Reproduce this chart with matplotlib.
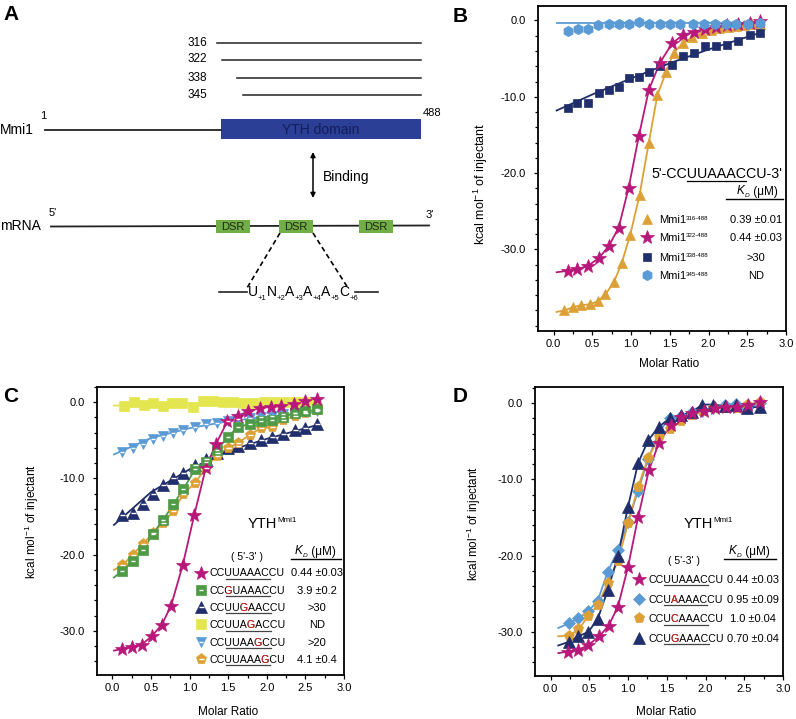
import matplotlib
matplotlib.use('Agg')
import matplotlib.pyplot as plt
import numpy as np
from matplotlib.lines import Line2D
from matplotlib.patches import Rectangle
from matplotlib.transforms import Bbox
from matplotlib.ticker import MultipleLocator, FixedLocator, FormatStrFormatter
from matplotlib.font_manager import FontProperties, findfont
from matplotlib.ft2font import FT2Font

plt.rcParams['font.family'] = ['Liberation Sans', 'DejaVu Sans']
plt.rcParams['axes.unicode_minus'] = False
plt.rcParams['mathtext.fontset'] = 'custom'
plt.rcParams['mathtext.rm'] = 'Liberation Sans'
plt.rcParams['mathtext.it'] = 'Liberation Sans:italic'

# colours
MAG = '#B8187A'
ORG = '#DDA036'
NAVY = '#212E6C'
LBLUE = '#5B9BD5'
GREEN = '#4E9A47'
YEL = '#E4E650'
RED = '#E0302A'

# ---------------- panel A (schematic) ----------------
construct_starts = [316, 322, 338, 345]
protein_len = 488
dsr_labels = ['DSR', 'DSR', 'DSR']
motif = [('U', '+1'), ('N', '+2'), ('A', '+3'), ('A', '+4'), ('A', '+5'), ('C', '+6')]

# ---------------- panel B ----------------
b316_x = [0.14, 0.25, 0.36, 0.47, 0.57, 0.67, 0.78, 0.88, 0.99, 1.11, 1.23, 1.34,
          1.45, 1.55, 1.67, 1.79, 1.91, 2.03, 2.14, 2.25, 2.36, 2.46, 2.56, 2.66]
b316_y = [-38.0, -37.6, -37.3, -37.2, -36.8, -35.9, -34.3, -31.8, -28.1, -22.9, -16.0, -9.8,
          -6.8, -4.2, -3.0, -2.2, -1.7, -1.3, -1.0, -0.9, -0.75, -0.6, -0.5, -0.4]
b322_x = [0.19, 0.30, 0.44, 0.59, 0.71, 0.84, 0.97, 1.10, 1.23, 1.37, 1.53, 1.67,
          1.81, 1.95, 2.10, 2.24, 2.38, 2.53, 2.67]
b322_y = [-32.8, -32.6, -32.2, -31.1, -29.6, -27.2, -21.9, -15.2, -9.1, -5.6, -3.0, -1.9,
          -1.5, -1.1, -0.8, -0.6, -0.4, -0.35, -0.1]
b338_x = b322_x
b338_y = [-11.5, -10.8, -10.8, -9.45, -9.1, -8.7, -7.6, -7.4, -6.7, -6.0, -5.8, -4.6,
          -4.2, -3.4, -3.4, -3.2, -2.75, -1.9, -1.6]
b338_fit_x = [0.04, 0.5, 1.0, 1.5, 2.0, 2.7]
b338_fit_y = [-11.8, -9.7, -7.6, -5.6, -3.8, -1.5]
b345_x = [0.19, 0.32, 0.45, 0.58, 0.71, 0.84, 0.97, 1.10, 1.23, 1.37, 1.50, 1.63,
          1.80, 1.94, 2.08, 2.22, 2.36, 2.51, 2.66]
b345_y = [-1.4, -1.15, -1.15, -0.57, -0.44, -0.44, -0.44, -0.26, -0.44, -0.44, -0.44, -0.44,
          -0.44, -0.44, -0.44, -0.44, -0.44, -0.44, -0.3]
b345_fit_x = [0.04, 2.7]
b345_fit_y = [-0.3, -0.3]
b_names = ['316-488', '322-488', '338-488', '345-488']
b_kd = ['0.39 \u00b10.01', '0.44 \u00b10.03', '>30', 'ND']

# ---------------- panel C ----------------
c_x = [0.13, 0.26, 0.40, 0.52, 0.66, 0.79, 0.92, 1.07, 1.21, 1.35, 1.50, 1.63,
       1.78, 1.92, 2.07, 2.21, 2.36, 2.50, 2.65]
c_wt_x = [0.12, 0.25, 0.38, 0.51, 0.64, 0.76, 0.91, 1.06, 1.21, 1.34, 1.49, 1.63,
          1.76, 1.91, 2.05, 2.19, 2.35, 2.50, 2.65]
c_wt_y = [-32.4, -32.1, -31.8, -30.7, -29.2, -26.7, -21.4, -14.8, -8.6, -5.5, -2.5, -1.75,
          -1.2, -0.75, -0.6, -0.45, -0.2, 0.1, 0.4]
c_g3_y = [-22.1, -20.8, -19.4, -17.3, -15.4, -13.4, -11.4, -8.8, -7.8, -6.3, -4.5, -3.2,
          -2.9, -2.4, -2.3, -1.9, -1.4, -1.2, -0.9]
c_g5_y = [-14.8, -14.6, -13.4, -12.0, -10.8, -9.9, -9.3, -8.3, -7.5, -6.6, -6.0, -5.7,
          -5.4, -5.0, -4.5, -4.2, -3.7, -3.4, -2.85]
c_g5_fit_x = [0.02, 0.5, 1.0, 1.5, 2.0, 2.65]
c_g5_fit_y = [-16.1, -11.8, -8.8, -6.4, -4.8, -3.0]
c_g6_x = [0.15, 0.28, 0.41, 0.52, 0.66, 0.77, 0.90, 1.04, 1.17, 1.30, 1.43, 1.56,
          1.69, 1.82, 1.96, 2.09, 2.22, 2.36, 2.50, 2.64]
c_g6_y = [-0.44, 0.0, -0.3, -0.13, -0.44, -0.13, -0.13, -0.57, 0.13, 0.13, 0.09, 0.0,
          -0.13, -0.13, 0.09, 0.09, 0.0, 0.0, 0.0, -0.2]
c_g6_fit_x = [0.02, 1.0, 2.65]
c_g6_fit_y = [-0.45, -0.15, -0.05]
c_g7_y = [-6.5, -6.0, -5.45, -4.8, -4.4, -4.1, -3.7, -3.3, -2.9, -2.75, -2.5, -2.2,
          -2.05, -1.9, -1.75, -1.5, -1.45, -1.3, -1.2]
c_g7_fit_x = [0.02, 0.5, 1.0, 1.5, 2.0, 2.65]
c_g7_fit_y = [-6.85, -4.7, -3.4, -2.5, -1.9, -1.3]
c_g8_y = [-21.4, -20.0, -18.6, -17.2, -15.8, -14.3, -12.0, -10.6, -8.6, -7.0, -6.0, -5.3,
          -4.3, -3.4, -3.3, -2.3, -1.8, -1.4, -1.0]
c_seqs = ['CCUUAAACCU', 'CCGUAAACCU', 'CCUUGAACCU', 'CCUUAGACCU', 'CCUUAAGCCU', 'CCUUAAAGCU']
c_red = [None, 2, 4, 5, 6, 7]
c_kd = ['0.44 \u00b10.03', '3.9 \u00b10.2', '>30', 'ND', '>20', '4.1 \u00b10.4']

# ---------------- panel D ----------------
d_wt_x = [0.22, 0.35, 0.48, 0.63, 0.75, 0.87, 1.00, 1.13, 1.27, 1.40, 1.55, 1.69,
          1.83, 1.98, 2.12, 2.27, 2.41, 2.55, 2.70]
d_wt_y = [-32.6, -32.4, -31.8, -30.6, -29.2, -26.7, -21.5, -15.0, -8.8, -5.2, -2.9, -1.8,
          -1.3, -1.0, -0.7, -0.5, -0.5, -0.3, 0.1]
d_x = [0.24, 0.36, 0.49, 0.61, 0.74, 0.87, 1.00, 1.13, 1.26, 1.40, 1.54, 1.68,
       1.82, 1.96, 2.10, 2.25, 2.39, 2.53, 2.70]
d_a_y = [-28.9, -28.2, -27.3, -25.9, -22.1, -19.3, -15.6, -11.5, -7.3, -3.8, -1.9, -1.7,
         -1.2, -1.1, -0.7, -0.2, -0.1, -0.7, 0.0]
d_c_y = [-30.5, -29.7, -27.9, -26.5, -23.6, -20.7, -15.8, -11.0, -7.2, -4.5, -3.4, -2.4,
         -1.6, -1.0, -0.6, -0.7, -0.6, -0.2, 0.1]
d_g_y = [-31.3, -30.6, -30.0, -28.3, -24.5, -20.1, -13.6, -7.9, -4.9, -3.1, -2.0, -1.6,
         -1.2, -0.2, -0.2, -0.4, -0.3, -0.6, -0.5]
d_seqs = ['CCUUAAACCU', 'CCUAAAACCU', 'CCUCAAACCU', 'CCUGAAACCU']
d_red = [None, 3, 3, 3]
d_kd = ['0.44 \u00b10.03', '0.95 \u00b10.09', '1.0 \u00b10.04', '0.70 \u00b10.04']

W, H = 796, 719
fig = plt.figure(figsize=(W / 100, H / 100), dpi=100)


def fx(x):
    return x / W


def fy(y):
    return 1 - y / H


_fonts = {}


def char_adv(ch, size, style='normal'):
    # glyph advance in pixels at dpi 100
    if style not in _fonts:
        _fonts[style] = FT2Font(findfont(FontProperties(family='Liberation Sans', style=style)))
    f = _fonts[style]
    f.set_size(size, 100)
    return f.load_char(ord(ch)).linearHoriAdvance / 65536


def seq_text(x, y, s, size, red=None, ul=None, ul_color='#444444'):
    # one text for the whole string; red letter painted over it, clipped to that letter
    fig.text(fx(x), fy(y), s, fontsize=size, ha='left', va='baseline')
    pen = [x]
    for ch in s:
        pen.append(pen[-1] + char_adv(ch, size))
    if red is not None:
        t = fig.text(fx(x), fy(y), s, fontsize=size, color=RED, ha='left', va='baseline')
        t.set_clip_box(Bbox.from_extents(pen[red] + 0.2, 0, pen[red + 1] - 0.2, H))
    if ul is not None:
        a, b = ul
        fig.add_artist(Line2D([fx(pen[a] + 0.5), fx(pen[b])], [fy(y + 2.2)] * 2,
                              color=ul_color, lw=0.9))


def with_sup(x, y, base, sup, size, scale=0.55, rise=3.5, style='normal'):
    fig.text(fx(x), fy(y), base, fontsize=size, style=style, ha='left', va='baseline')
    w = sum(char_adv(ch, size, style) for ch in base)
    fig.text(fx(x + w), fy(y - rise), sup, fontsize=size * scale, style=style,
             ha='left', va='baseline')
    return x + w + sum(char_adv(ch, size * scale, style) for ch in sup)


def kd_header(x, y, size):
    xe = with_sup(x, y, 'K', 'D', size, rise=-2.5, style='italic')
    fig.text(fx(xe), fy(y), ' (\u03bcM)', fontsize=size, ha='left', va='baseline')


def style_ax(ax, ylo, yhi):
    ax.set_xlim(-0.2, 3.0)
    ax.set_ylim(ylo, yhi)
    ax.xaxis.set_major_locator(MultipleLocator(0.5))
    ax.xaxis.set_minor_locator(MultipleLocator(0.25))
    ax.yaxis.set_major_locator(FixedLocator([-30, -20, -10, 0]))
    ax.yaxis.set_minor_locator(MultipleLocator(2))
    ax.xaxis.set_major_formatter(FormatStrFormatter('%.1f'))
    ax.yaxis.set_major_formatter(FormatStrFormatter('%.1f'))
    for sp in ax.spines.values():
        sp.set_linewidth(1.3)
    ax.tick_params(which='both', direction='out', top=False, right=False, width=0.9)
    ax.tick_params(which='major', length=3, labelsize=8)
    ax.tick_params(which='minor', length=2)
    ax.tick_params(axis='x', pad=2.5)
    ax.tick_params(axis='y', pad=5.5)


def series(ax, x, y, color, marker, ms, fit=None, dash=False, z=3):
    lx, ly = fit if fit else (x, y)
    ax.plot(lx, ly, '-', color=color, lw=1.3, zorder=z)
    ax.plot(x, y, ls='none', marker=marker, ms=ms, color=color, mec=color,
            mew=0.5, zorder=z + 0.5)
    if dash:
        ax.plot(x, y, ls='none', marker='_', ms=ms * 0.45, color='white', mew=1.0,
                zorder=z + 0.6)


def legend_marker(x, y, color, marker, ms, dash=False):
    fig.add_artist(Line2D([fx(x)], [fy(y)], ls='none', marker=marker, ms=ms,
                          color=color, mec=color, mew=0.5))
    if dash:
        fig.add_artist(Line2D([fx(x)], [fy(y)], ls='none', marker='_', ms=ms * 0.45,
                              color='white', mew=1.0))


def axis_labels(ax, ylab_x, ylab_y, xlab_y, ysize):
    ax.set_xlabel('Molar Ratio', fontsize=8.5)
    ax.xaxis.set_label_coords(0.53, xlab_y)
    ax.set_ylabel('kcal mol$^{-1}$ of injectant', fontsize=ysize)
    ax.yaxis.set_label_coords(ylab_x, ylab_y)


# ---------------- panel A drawing ----------------
ax_a = fig.add_axes([0, 0, 1, 1], zorder=-1)
ax_a.set_xlim(0, W)
ax_a.set_ylim(H, 0)
ax_a.axis('off')

res_to_px = lambda r: np.interp(r, [1, 316, 345, protein_len], [45, 217, 243, 421])
row_y = [42.5, 59.5, 78, 95]
for start, yy in zip(construct_starts, row_y):
    ax_a.plot([res_to_px(start), res_to_px(protein_len)], [yy, yy], color='#222222', lw=1.1)
    ax_a.text(207, yy, str(start), ha='right', va='center', fontsize=8.5)

ax_a.plot([res_to_px(1), 221], [130, 130], color='#222222', lw=1.3)
ax_a.add_patch(Rectangle((221, 119), res_to_px(protein_len) - 221, 20, color='#2B3F96', lw=0))
ax_a.text(321, 129.5, 'YTH domain', ha='center', va='center', fontsize=10, color='#131D57')
ax_a.text(0, 129.5, 'Mmi1', ha='left', va='center', fontsize=10)
ax_a.text(43, 116, '1', ha='center', va='center', fontsize=8)
ax_a.text(423, 113, str(protein_len), ha='left', va='center', fontsize=8)

ax_a.annotate('', xy=(313, 152), xytext=(313, 198),
              arrowprops=dict(arrowstyle='<|-|>', lw=1.1, color='black', mutation_scale=7,
                              shrinkA=0, shrinkB=0))
ax_a.text(323, 177, 'Binding', ha='left', va='center', fontsize=10)

ax_a.text(0, 226, 'mRNA', ha='left', va='center', fontsize=10)
ax_a.text(53, 213, "5'", ha='center', va='center', fontsize=8)
ax_a.text(430, 215, "3'", ha='center', va='center', fontsize=8)
ax_a.plot([51, 429], [226.5, 225.5], color='#222222', lw=1.3)
dsr_x = [216, 279, 359]
for xx, lab in zip(dsr_x, dsr_labels):
    ax_a.add_patch(Rectangle((xx, 220), 34, 13, color='#72AE47', lw=0, zorder=3))
    ax_a.text(xx + 17, 226.5, lab, ha='center', va='center', fontsize=8, color='#1E2A14', zorder=4)

ax_a.plot([280, 247], [233, 288], color='black', lw=1.2, ls=(0, (3, 2)))
ax_a.plot([313, 348], [233, 288], color='black', lw=1.2, ls=(0, (3, 2)))
ax_a.plot([219, 247], [292, 292], color='#222222', lw=1.2)
ax_a.plot([355, 378], [292, 292], color='#222222', lw=1.2)
mx = 248
for base, pos in motif:
    fig.text(fx(mx), fy(296.5), base, fontsize=10, ha='left', va='baseline')
    mx += char_adv(base, 10)
    fig.text(fx(mx), fy(299.5), pos, fontsize=5.5, ha='left', va='baseline')
    mx += sum(char_adv(ch, 5.5) for ch in pos)

# panel letters
for lab, (x, y) in zip('ABCD', [(3, 5), (453, 7), (3, 387), (453, 387)]):
    fig.text(fx(x), fy(y), lab, fontsize=15, fontweight='bold', ha='left', va='top')

# ---------------- panel B ----------------
ax_b = fig.add_axes([fx(538), fy(331), fx(786) - fx(538), fy(6) - fy(331)])
style_ax(ax_b, -40.7, 1.9)
series(ax_b, b316_x, b316_y, ORG, '^', 7, fit=([0.04] + b316_x, [-38.2] + b316_y))
series(ax_b, b338_x, b338_y, NAVY, 's', 6, fit=(b338_fit_x, b338_fit_y))
series(ax_b, b322_x, b322_y, MAG, '*', 10, fit=([0.04] + b322_x, [-33.0] + b322_y))
series(ax_b, b345_x, b345_y, LBLUE, 'h', 7.5, fit=(b345_fit_x, b345_fit_y))
axis_labels(ax_b, -0.195, 0.452, -0.083, 9)

seq_text(651, 178.5, "5'-CCUUAAACCU-3'", 10.3, ul=(5, 11), ul_color='black')
kd_header(737, 194.5, 8.5)
fig.add_artist(Line2D([fx(726), fx(783)], [fy(199.3)] * 2, color='black', lw=1.0))
b_styles = [(ORG, '^', 7), (MAG, '*', 10), (NAVY, 's', 6), (LBLUE, 'h', 7.5)]
for i, (nm, kd, (c, m, s)) in enumerate(zip(b_names, b_kd, b_styles)):
    yy = [219.3, 236.7, 256.7, 275][i]
    legend_marker(647, yy, c, m, s)
    with_sup(659, yy + 4, 'Mmi1', nm, 8)
    fig.text(fx(756), fy(yy + 4), kd, fontsize=8, ha='center', va='baseline')

# ---------------- panel C ----------------
ax_c = fig.add_axes([fx(97), fy(675), fx(344) - fx(97), fy(387) - fy(675)])
style_ax(ax_c, -35.8, 2.0)
series(ax_c, c_g6_x, c_g6_y, YEL, 's', 6.5, fit=(c_g6_fit_x, c_g6_fit_y))
series(ax_c, c_x, c_g7_y, LBLUE, 'v', 7.5, fit=(c_g7_fit_x, c_g7_fit_y), dash=True)
series(ax_c, c_x, c_g5_y, NAVY, '^', 8, fit=(c_g5_fit_x, c_g5_fit_y), dash=True)
series(ax_c, c_x, c_g8_y, ORG, 'p', 8, fit=([0.02] + c_x, [-22.0] + c_g8_y), dash=True)
series(ax_c, c_x, c_g3_y, GREEN, 's', 6.5, fit=([0.02] + c_x, [-23.0] + c_g3_y), dash=True)
series(ax_c, c_wt_x, c_wt_y, MAG, '*', 10, fit=([0.02] + c_wt_x, [-32.6] + c_wt_y))
axis_labels(ax_c, -0.225, 0.532, -0.108, 8.5)

with_sup(248, 527.5, 'YTH', 'Mmi1', 10.5, rise=6)
fig.text(fx(247), fy(560), "( 5'-3' )", fontsize=7.5, ha='center', va='baseline')
kd_header(295, 554.5, 8.5)
fig.add_artist(Line2D([fx(291), fx(341)], [fy(559)] * 2, color='black', lw=1.0))
c_styles = [(MAG, '*', 10, False), (GREEN, 's', 6.5, True), (NAVY, '^', 8, True),
            (YEL, 's', 6.5, False), (LBLUE, 'v', 7.5, True), (ORG, 'p', 8, True)]
for i, (sq, rd, kd, (c, m, s, d)) in enumerate(zip(c_seqs, c_red, c_kd, c_styles)):
    yy = 572.5 + i * 17.3
    legend_marker(200.7, yy, c, m, s, d)
    seq_text(210, yy + 4, sq, 7.7, red=rd, ul=(2, 8))
    fig.text(fx(317), fy(yy + 4), kd, fontsize=8, ha='center', va='baseline')

# ---------------- panel D ----------------
ax_d = fig.add_axes([fx(535), fy(676), fx(783) - fx(535), fy(387) - fy(676)])
style_ax(ax_d, -35.8, 2.1)
series(ax_d, d_x, d_a_y, LBLUE, 'D', 6, fit=([0.1] + d_x, [-29.5] + d_a_y))
series(ax_d, d_x, d_c_y, ORG, 'p', 8, fit=([0.1] + d_x, [-30.6] + d_c_y))
series(ax_d, d_x, d_g_y, NAVY, '^', 8, fit=([0.1] + d_x, [-31.8] + d_g_y))
series(ax_d, d_wt_x, d_wt_y, MAG, '*', 10, fit=([0.1] + d_wt_x, [-32.8] + d_wt_y))
axis_labels(ax_d, -0.21, 0.529, -0.104, 8.5)

with_sup(684, 528.5, 'YTH', 'Mmi1', 10.5, rise=6)
fig.text(fx(684), fy(564), "( 5'-3' )", fontsize=7.5, ha='center', va='baseline')
kd_header(729, 554.5, 8.5)
fig.add_artist(Line2D([fx(724), fx(776)], [fy(559)] * 2, color='black', lw=1.0))
d_styles = [(MAG, '*', 10), (LBLUE, 'D', 6), (ORG, 'p', 8), (NAVY, '^', 8)]
for i, (sq, rd, kd, (c, m, s)) in enumerate(zip(d_seqs, d_red, d_kd, d_styles)):
    yy = 579 + i * 19.7
    legend_marker(639.3, yy, c, m, s)
    seq_text(648.3, yy + 4, sq, 7.7, red=rd, ul=(2, 8))
    fig.text(fx(753), fy(yy + 4), kd, fontsize=8, ha='center', va='baseline')

fig.savefig('out.png', dpi=100)
